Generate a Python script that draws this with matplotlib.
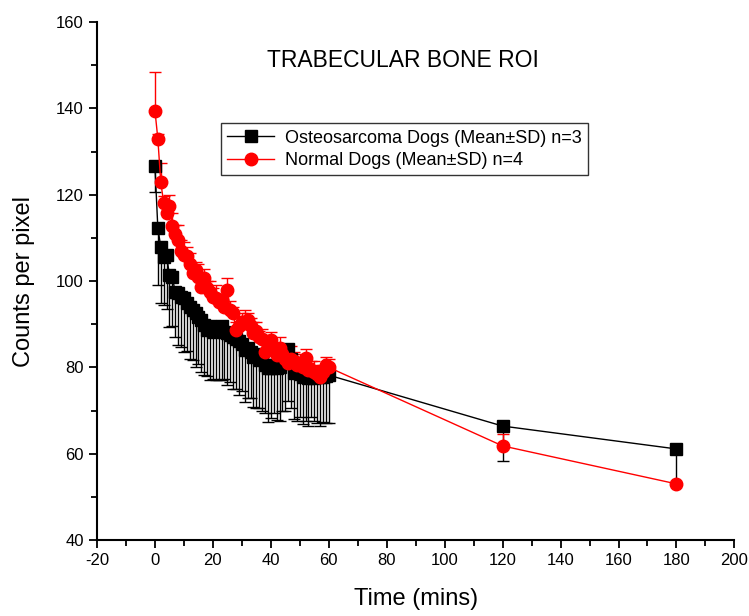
import numpy as np
import matplotlib
matplotlib.use("Agg")
import matplotlib.pyplot as plt
from matplotlib.ticker import MultipleLocator
from matplotlib.lines import Line2D

plt.rcParams['font.family'] = ['Liberation Sans', 'DejaVu Sans']
plt.rcParams['axes.unicode_minus'] = False

# time points (mins)
t_osteo = list(range(0, 61)) + [120, 180]
t_normal = list(range(0, 61)) + [120, 180]

# osteosarcoma dogs, mean and SD (drawn below only)
osteo_mean = [126.6, 112.3, 108.0, 105.5, 106.0, 101.4, 101.0, 97.4, 97.2, 96.3,
              96.0, 94.9, 94.0, 93.3, 92.5, 91.7, 91.0, 89.8, 88.6, 89.5,
              88.2, 89.0, 88.6, 89.5, 88.2, 88.0, 87.5, 87.0, 86.5, 86.0,
              85.5, 84.0, 84.5, 83.5, 82.4, 83.0, 81.7, 82.0, 80.5, 79.8,
              79.8, 80.5, 79.8, 80.0, 81.0, 83.0, 84.2, 82.0, 78.6, 79.0,
              78.5, 77.8, 78.0, 77.5, 78.0, 77.5, 78.0, 77.8, 77.8, 78.0,
              78.2, 66.4, 61.1]
osteo_sd = [6.0, 13.3, 13.0, 11.0, 12.5, 12.0, 11.5, 10.4, 12.0, 11.5,
            12.5, 11.0, 12.0, 11.5, 12.5, 11.0, 12.0, 11.5, 10.5, 12.5,
            11.0, 12.0, 11.5, 12.5, 11.0, 12.0, 11.0, 12.0, 11.5, 12.5,
            11.0, 12.0, 11.5, 10.5, 11.5, 12.5, 11.0, 12.0, 11.0, 12.5,
            11.5, 11.0, 12.0, 12.5, 11.0, 13.0, 12.0, 11.5, 10.5, 11.5,
            10.0, 11.0, 10.5, 11.0, 9.5, 10.0, 11.0, 11.5, 10.5, 11.0,
            11.0, 8.0, 8.0]

# normal dogs, mean and SD (drawn above only)
normal_mean = [139.5, 133.0, 123.0, 118.2, 115.8, 117.5, 112.8, 111.0, 109.5, 107.0,
               106.0, 105.8, 104.0, 101.8, 102.5, 101.0, 98.6, 100.7, 98.5, 97.5,
               96.3, 96.0, 95.1, 95.5, 94.0, 97.9, 93.3, 92.5, 88.6, 89.5,
               90.5, 90.3, 91.0, 89.5, 88.0, 88.5, 87.0, 86.5, 83.5, 85.0,
               86.3, 84.0, 82.9, 84.5, 83.0, 82.0, 81.0, 82.0, 81.5, 80.5,
               81.0, 80.0, 82.2, 79.5, 79.4, 79.0, 78.5, 77.8, 79.0, 80.5,
               80.0, 61.8, 53.0]
normal_sd = [9.0, 1.0, 4.4, 1.5, 2.0, 2.5, 3.0, 2.0, 3.5, 2.5,
             3.0, 2.0, 2.5, 1.5, 2.0, 3.0, 2.5, 2.0, 1.5, 2.5,
             2.0, 3.0, 2.0, 1.5, 2.5, 2.8, 2.0, 1.5, 2.0, 2.5,
             2.0, 3.0, 1.5, 2.0, 2.5, 2.0, 1.5, 2.5, 2.0, 2.5,
             2.0, 1.5, 2.0, 2.5, 2.0, 1.5, 2.0, 3.0, 2.0, 1.5,
             2.0, 2.5, 2.0, 1.5, 2.0, 2.5, 2.0, 2.5, 1.5, 2.0,
             2.0, 2.8, 0.5]

fig = plt.figure(figsize=(7.49, 6.16), dpi=100)
ax = fig.add_axes([0.1295, 0.1234, 0.851, 0.8406])

zo = np.zeros(len(osteo_sd))
ax.errorbar(t_osteo, osteo_mean, yerr=[osteo_sd, zo], color='black', lw=1,
            marker='s', ms=9, mec='black', mfc='black', ecolor='black',
            elinewidth=1, capsize=4, capthick=1)

zn = np.zeros(len(normal_sd))
ax.errorbar(t_normal, normal_mean, yerr=[zn, normal_sd], color='red', lw=1,
            marker='o', ms=9, mec='red', mfc='red', ecolor='red',
            elinewidth=1, capsize=4, capthick=1)

ax.set_xlim(-20, 200)
ax.set_ylim(40, 160)
ax.xaxis.set_major_locator(MultipleLocator(20))
ax.xaxis.set_minor_locator(MultipleLocator(10))
ax.yaxis.set_major_locator(MultipleLocator(20))
ax.yaxis.set_minor_locator(MultipleLocator(10))
ax.tick_params(which='major', direction='out', length=6, width=1.3, labelsize=12)
ax.tick_params(which='minor', direction='out', length=4, width=1.3)
for s in ['top', 'right']:
    ax.spines[s].set_visible(False)
for s in ['left', 'bottom']:
    ax.spines[s].set_linewidth(1.5)

ax.set_xlabel('Time (mins)', fontsize=17, labelpad=14)
ax.set_ylabel('Counts per pixel', fontsize=17, labelpad=15)
ax.text(85.7, 151.2, 'TRABECULAR BONE ROI', fontsize=16.5, ha='center', va='center')

handles = [Line2D([], [], color='black', lw=1, marker='s', ms=8, mfc='black', mec='black'),
           Line2D([], [], color='red', lw=1, marker='o', ms=9, mfc='red', mec='red')]
labels = ['Osteosarcoma Dogs (Mean\u00b1SD) n=3', 'Normal Dogs (Mean\u00b1SD) n=4']
leg = ax.legend(handles, labels, loc='upper left', bbox_to_anchor=(0.18, 0.822),
                fontsize=13, frameon=True, fancybox=False, edgecolor='black',
                handlelength=2.6, borderpad=0.35, labelspacing=0.3, handletextpad=0.6)
leg.get_frame().set_linewidth(1.0)

fig.savefig('out.png', dpi=100)
